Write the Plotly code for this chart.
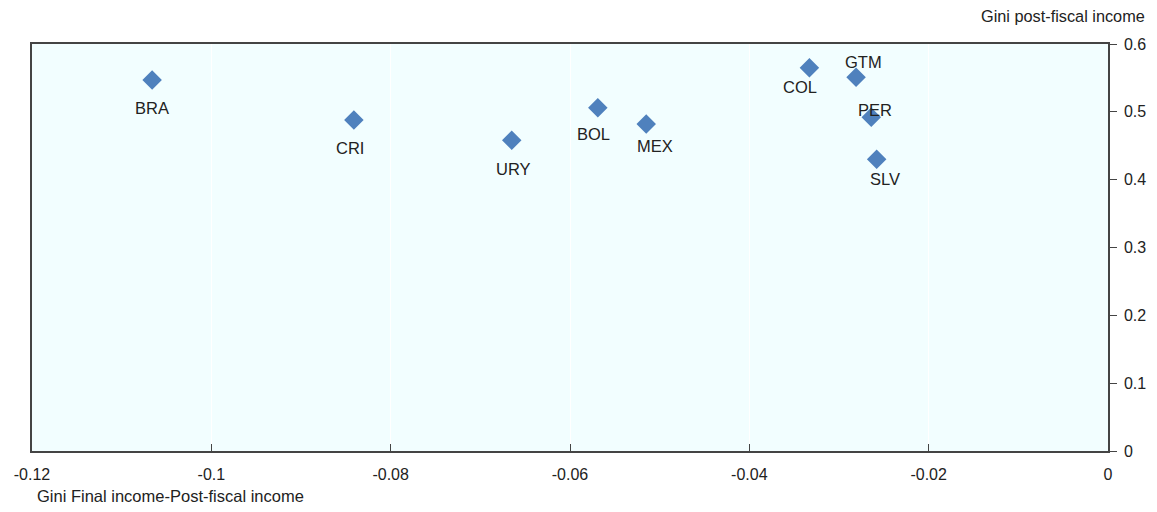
import plotly.graph_objects as go

countries = ["BRA", "CRI", "URY", "BOL", "MEX", "COL", "GTM", "PER", "SLV"]
gini_diff = [-0.1066, -0.0841, -0.0665, -0.0569, -0.0515, -0.0333, -0.0281, -0.0264, -0.0258]
gini_post = [0.547, 0.488, 0.458, 0.506, 0.482, 0.565, 0.551, 0.492, 0.430]

x_ticks = [-0.12, -0.1, -0.08, -0.06, -0.04, -0.02, 0]
x_tick_text = ["-0.12", "-0.1", "-0.08", "-0.06", "-0.04", "-0.02", "0"]
y_ticks = [0, 0.1, 0.2, 0.3, 0.4, 0.5, 0.6]
y_tick_text = ["0", "0.1", "0.2", "0.3", "0.4", "0.5", "0.6"]

# label pixel offsets (styling)
label_offsets = {
    "BRA": (0, 28), "CRI": (-4, 28), "URY": (2, 29), "BOL": (-4, 26),
    "MEX": (9, 22), "COL": (-9, 19), "GTM": (7, -15), "PER": (4, -7), "SLV": (8, 20),
}

font_family = "Liberation Sans, Arial, sans-serif"

fig = go.Figure()
fig.add_trace(go.Scatter(
    x=gini_diff, y=gini_post, mode="markers",
    marker=dict(symbol="diamond", size=15, color="#4F81BD"),
    hoverinfo="skip", showlegend=False,
))

for c, xv, yv in zip(countries, gini_diff, gini_post):
    dx, dy = label_offsets[c]
    fig.add_annotation(x=xv, y=yv, text=c, showarrow=False,
                       xshift=dx, yshift=-dy,
                       font=dict(family=font_family, size=16.5, color="#222222"))

fig.add_annotation(xref="paper", yref="paper", x=1.0, y=1.0, xshift=39, yshift=17,
                   xanchor="right", yanchor="bottom", showarrow=False,
                   text="Gini post-fiscal income",
                   font=dict(family=font_family, size=16.3, color="#222222"))
fig.add_annotation(xref="paper", yref="paper", x=0.0, y=0.0, xshift=3, yshift=-56,
                   xanchor="left", yanchor="bottom", showarrow=False,
                   text="Gini Final income-Post-fiscal income",
                   font=dict(family=font_family, size=16.5, color="#222222"))

fig.update_layout(
    width=1157, height=512,
    margin=dict(l=24, r=57, t=36, b=69),
    paper_bgcolor="white", plot_bgcolor="#F2FEFF",
    font=dict(family=font_family, size=14, color="#222222"),
    xaxis=dict(range=[-0.12, 0], tickvals=x_ticks, ticktext=x_tick_text,
               showline=True, linecolor="#444444", linewidth=1.5, mirror=True,
               ticks="inside", ticklen=7, tickcolor="#444444",
               ticklabelstandoff=8, automargin=False,
               showgrid=True, gridcolor="#FFFFFF", gridwidth=1, zeroline=False,
               tickfont=dict(size=16)),
    yaxis=dict(range=[0, 0.6], tickvals=y_ticks, ticktext=y_tick_text, side="right",
               showline=True, linecolor="#444444", linewidth=1.5, mirror=True,
               ticks="outside", ticklen=7, tickcolor="#444444",
               ticklabelstandoff=4, automargin=False,
               showgrid=False, zeroline=False, tickfont=dict(size=16)),
)

fig.write_html("out.html")
